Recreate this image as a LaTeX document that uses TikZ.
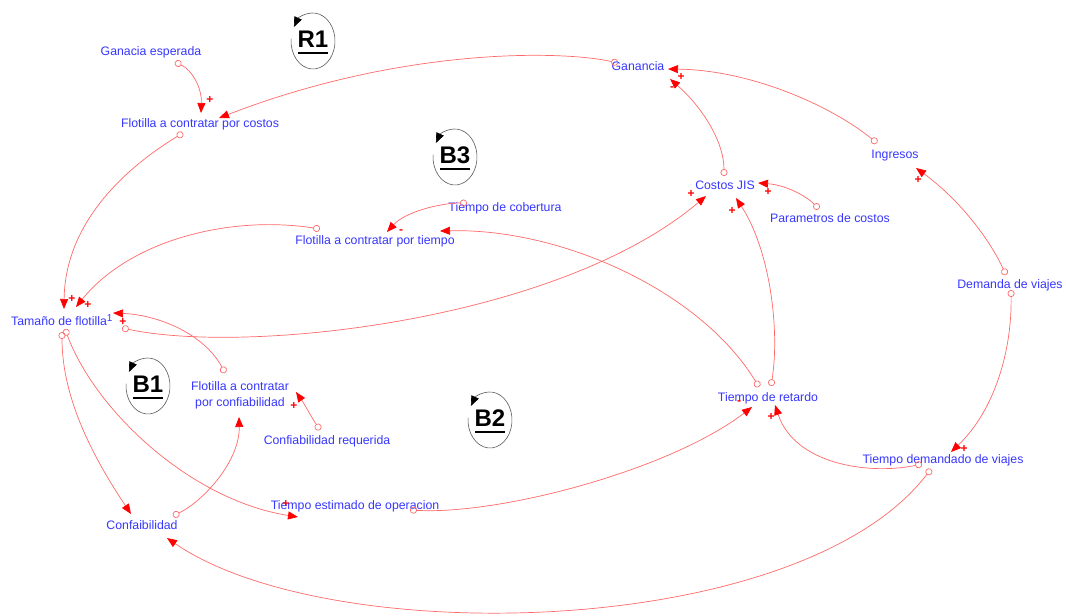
\documentclass[tikz,border=0pt]{standalone}
\usepackage{fontspec}
\setmainfont{Liberation Sans}
\usepackage{graphicx}
\usetikzlibrary{arrows.meta}

\definecolor{varblue}{RGB}{55,55,255}
\definecolor{linkred}{RGB}{255,105,105}
\definecolor{loopgray}{RGB}{90,90,90}

\tikzset{
  var/.style={text=varblue, font=\fontsize{12.3}{16}\selectfont, inner sep=0pt,
              text height=9pt, text depth=2.5pt},
  link/.style={draw=linkred, line width=0.7pt,
               {Circle[open,length=7pt,width=7pt]}-{Triangle[length=10pt,width=8pt,color=red,fill=red]}},
  sign/.style={text=red, font=\fontsize{12}{12}\selectfont\bfseries, inner sep=0pt},
  looplabel/.style={font=\fontsize{24}{24}\selectfont\bfseries, inner sep=0pt},
  loopline/.style={draw=loopgray, line width=0.6pt,
                   -{Triangle[length=10pt,width=8pt,color=black,fill=black]}},
}

% loop marker: name, centre, label
\newcommand\loopmark[3]{%
  \coordinate (#1) at (#2);
  \node[looplabel] (#1-t) at ([yshift=2pt]#1) {#3};
  \draw[loopline] ([shift={(175:22pt and 28pt)}]#1)
      arc[start angle=175, end angle=510, x radius=22pt, y radius=28pt];
  \draw[line width=2.4pt] ([shift={(-15,12)}]#1) -- ([shift={(15,12)}]#1);
}

\begin{document}
\begin{tikzpicture}[x=1pt, y=-1pt]
\fill[white] (0,0) rectangle (1066,616);
\useasboundingbox (0,0) rectangle (1066,616);

% variables
\node[var] (ge)  at (151,52)  {Ganacia esperada};
\node[var] (fc)  at (200,124) {Flotilla a contratar por costos};
\node[var] (ga)  at (638,67)  {Ganancia};
\node[var] (ing) at (895,155) {Ingresos};
\node[var] (cj)  at (725,186) {Costos JIS};
\node[var] (pc)  at (830,219) {Parametros de costos};
\node[var] (tc)  at (505,208) {Tiempo de cobertura};
\node[var] (ft)  at (375,241) {Flotilla a contratar por tiempo};
\node[var, anchor=west] (tf) at (11,322)
  {Tamaño de flotilla\raisebox{3.5pt}{\fontsize{10}{10}\selectfont 1}};
\node[var] (dv)  at (1010,285) {Demanda de viajes};
\node[var, align=center, text height={}, text depth={}] (fr) at (240,395)
  {Flotilla a contratar\\por confiabilidad};
\node[var] (cr)  at (327,441) {Confiabilidad requerida};
\node[var] (tr)  at (768,398) {Tiempo de retardo};
\node[var] (td)  at (943,460) {Tiempo demandado de viajes};
\node[var] (te)  at (355,506) {Tiempo estimado de operacion};
\node[var] (co)  at (142,526) {Confaibilidad};

% loop markers
\loopmark{r1}{313,41}{R1}
\loopmark{b3}{455,157}{B3}
\loopmark{b1}{148,386}{B1}
\loopmark{b2}{490,420}{B2}

% causal links
\draw[link] ([shift={(24,10)}]ge.center) .. controls (192,70) and (202,88) .. ([shift={(1,-11)}]fc.center);
\draw[link] ([shift={(-20,-4)}]ga.center) .. controls (560,50) and (400,48) .. ([shift={(19,-6)}]fc.center);
\draw[link] ([shift={(-18,-12)}]ing.center) .. controls (830,105) and (750,70) .. ([shift={(30,2)}]ga.center);
\draw[link] ([shift={(-1,-10)}]cj.center) .. controls (724,140) and (700,105) .. ([shift={(32,12)}]ga.center);
\draw[link] ([shift={(-11,-10)}]pc.center) .. controls (805,195) and (785,185) .. ([shift={(33,-3)}]cj.center);
\draw[link] ([shift={(3,-12)}]tr.center) .. controls (780,330) and (770,250) .. ([shift={(11,12)}]cj.center);
\draw[link] ([shift={(111,6)}]tf.west) .. controls (250,355) and (560,320) .. ([shift={(-19,10)}]cj.center);
\draw[link] ([shift={(-17,9)}]fc.center) .. controls (130,165) and (65,220) .. ([shift={(53,-13)}]tf.west);
\draw[link] ([shift={(-55,-12)}]ft.center) .. controls (230,215) and (130,240) .. ([shift={(65,-15)}]tf.west);
\draw[link] ([shift={(-15,-22)}]fr.center) .. controls (205,335) and (160,315) .. ([shift={(102,-9)}]tf.west);
\draw[link] ([shift={(-38,-5)}]tc.center) .. controls (440,203) and (405,212) .. ([shift={(12,-9)}]ft.center);
\draw[link] ([shift={(-9,-11)}]tr.center) .. controls (700,290) and (560,228) .. ([shift={(65,-10)}]ft.center);
\draw[link] ([shift={(55,4)}]te.center) .. controls (500,515) and (670,470) .. ([shift={(-16,9)}]tr.center);
\draw[link] ([shift={(54,7)}]tf.west) .. controls (95,410) and (190,500) .. ([shift={(-57,11)}]te.center);
\draw[link] ([shift={(51,10)}]tf.west) .. controls (62,400) and (95,460) .. ([shift={(-11,-12)}]co.center);
\draw[link] ([shift={(31,-10)}]co.center) .. controls (205,500) and (240,460) .. ([shift={(-1,22)}]fr.center);
\draw[link] ([shift={(-7,-11)}]cr.center) .. controls (312,418) and (305,405) .. ([shift={(56,-3)}]fr.center);
\draw[link] ([shift={(-4,-10)}]dv.center) .. controls (990,240) and (960,200) .. ([shift={(21,13)}]ing.center);
\draw[link] ([shift={(1,5)}]dv.center) .. controls (1012,350) and (995,410) .. ([shift={(8,-8)}]td.center);
\draw[link] ([shift={(-21,4)}]td.center) .. controls (870,475) and (795,465) .. ([shift={(7,7)}]tr.center);
\draw[link] ([shift={(-12,9)}]td.center) .. controls (800,640) and (330,650) .. ([shift={(25,12)}]co.center);

% link polarities
\node[sign] (s1)  at (210,100) {+};
\node[sign] (s2)  at (681,77)  {+};
\node[sign] (s3)  at (672,89)  {-};
\node[sign] (s4)  at (768,192) {+};
\node[sign] (s5)  at (732,211) {+};
\node[sign] (s6)  at (691,194) {+};
\node[sign] (s7)  at (72,299)  {+};
\node[sign] (s8)  at (88,305)  {+};
\node[sign] (s9)  at (123,322) {+};
\node[sign] (s10) at (401,232) {-};
\node[sign] (s11) at (739,403) {-};
\node[sign] (s12) at (286,504) {+};
\node[sign] (s13) at (294,406) {+};
\node[sign] (s14) at (918,180) {+};
\node[sign] (s15) at (964,449) {+};
\node[sign] (s16) at (771,417) {+};
\end{tikzpicture}
\end{document}
